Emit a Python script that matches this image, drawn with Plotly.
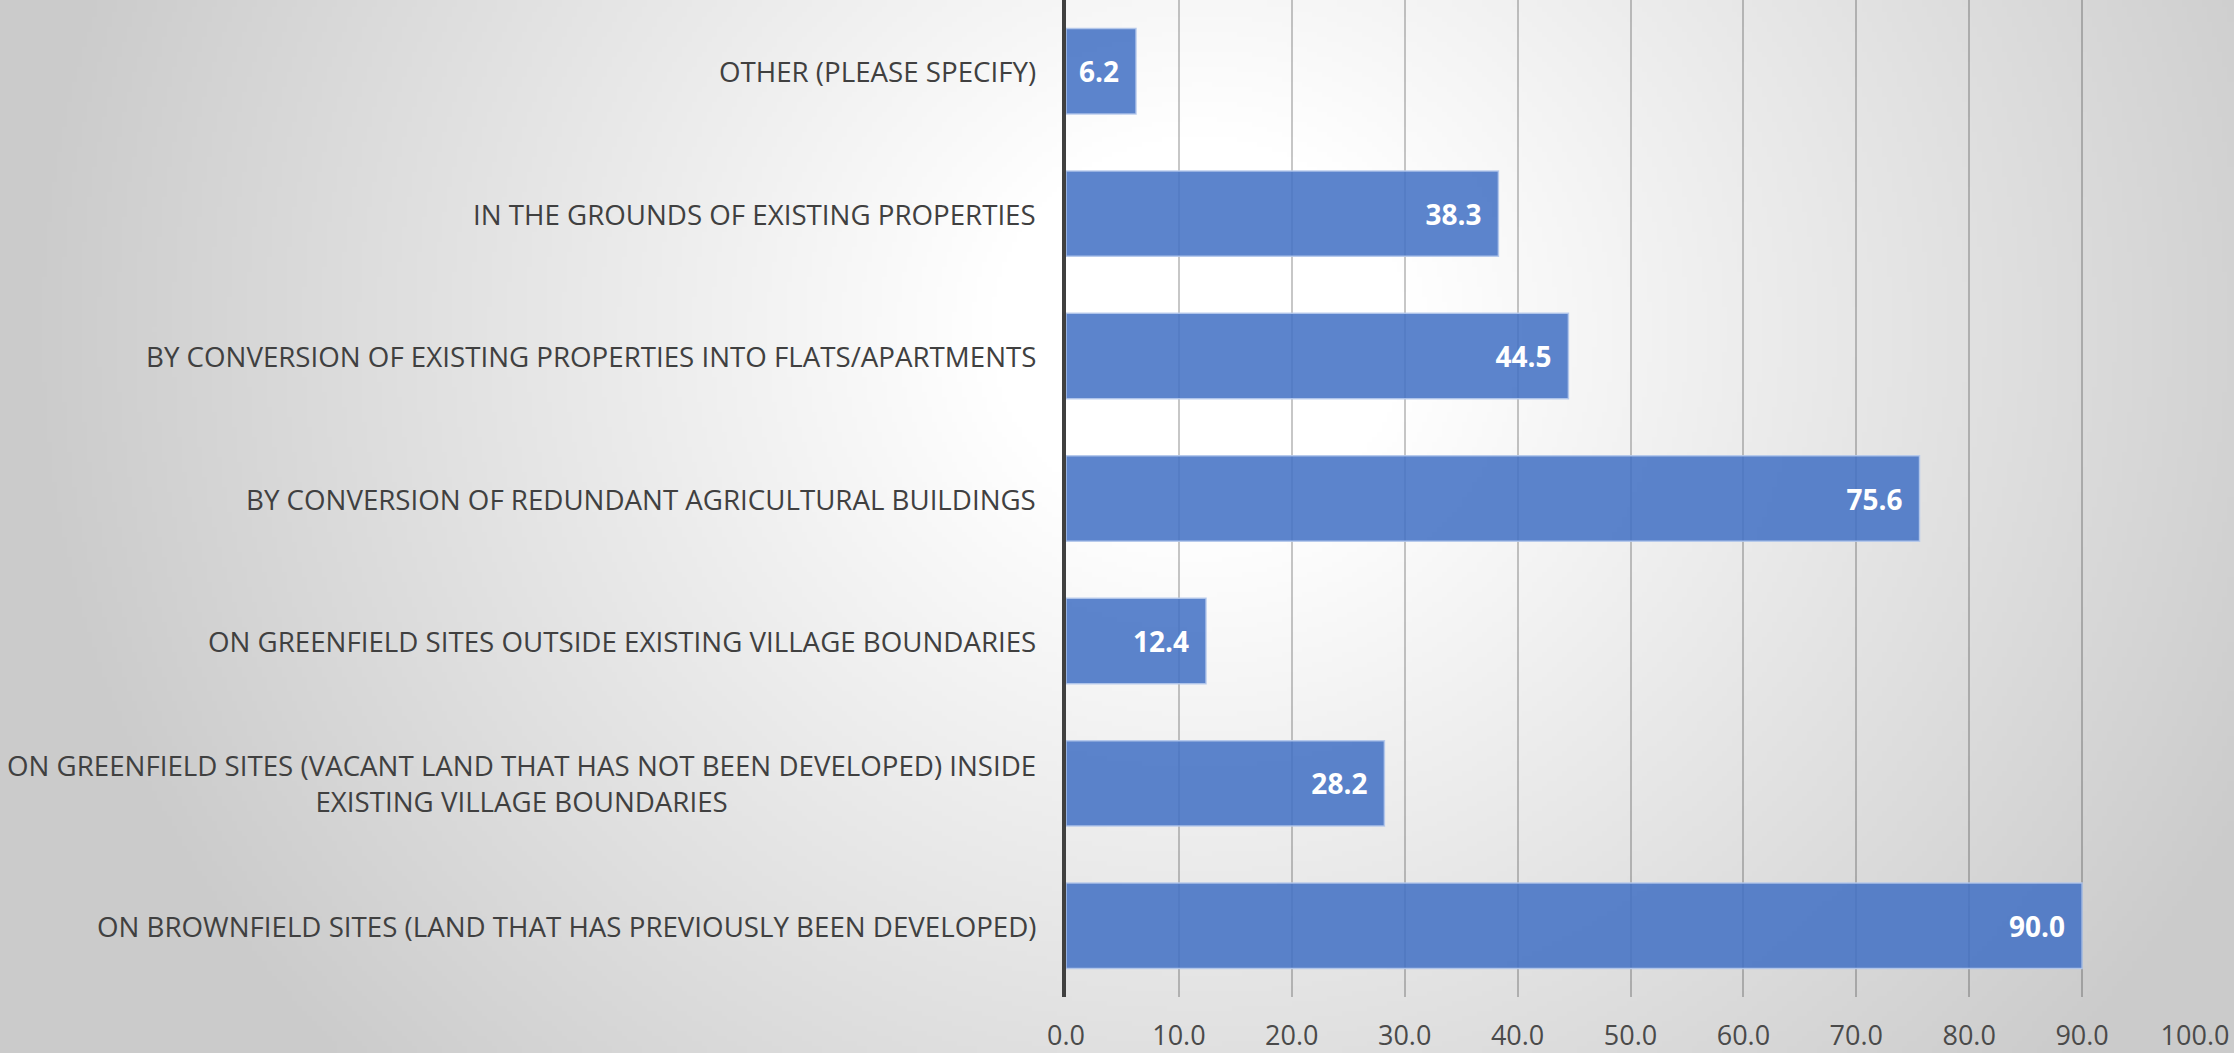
import base64, struct, zlib
import numpy as np
import plotly.graph_objects as go

# ---- data (top to bottom as shown) ----
categories = [
    "OTHER (PLEASE SPECIFY)",
    "IN THE GROUNDS OF EXISTING PROPERTIES",
    "BY CONVERSION OF EXISTING PROPERTIES INTO FLATS/APARTMENTS",
    "BY CONVERSION OF REDUNDANT AGRICULTURAL BUILDINGS",
    "ON GREENFIELD SITES OUTSIDE EXISTING VILLAGE BOUNDARIES",
    "ON GREENFIELD SITES (VACANT LAND THAT HAS NOT BEEN DEVELOPED) INSIDE<br>EXISTING VILLAGE BOUNDARIES",
    "ON BROWNFIELD SITES (LAND THAT HAS PREVIOUSLY BEEN DEVELOPED)",
]
values = [6.2, 38.3, 44.5, 75.6, 12.4, 28.2, 90.0]
x_ticks = [0, 10, 20, 30, 40, 50, 60, 70, 80, 90, 100]
x_tick_labels = ["0.0", "10.0", "20.0", "30.0", "40.0", "50.0", "60.0", "70.0", "80.0", "90.0", "100.0"]

W, H = 2234, 1053
ML, MR, MT, MB = 1066, 39, 0, 56
PW, PH = W - ML - MR, H - MT - MB

# ---- radial grey background as PNG ----
def make_bg(w=447, h=211):
    ys, xs = np.mgrid[0:h, 0:w]
    fx = xs / (w - 1) * W
    fy = ys / (h - 1) * H
    cx, cy, rx, ry = 1200, 330, 1180, 1100
    d = np.sqrt(((fx - cx) / rx) ** 2 + ((fy - cy) / ry) ** 2)
    t = np.clip((d - 0.18) / 0.82, 0, 1)
    v = 255 - 52 * t
    arr = np.clip(v, 0, 255).astype(np.uint8)
    raw = b"".join(b"\x00" + arr[i].tobytes() for i in range(h))
    def chunk(tag, data):
        c = struct.pack(">I", len(data)) + tag + data
        return c + struct.pack(">I", zlib.crc32(tag + data) & 0xFFFFFFFF)
    png = b"\x89PNG\r\n\x1a\n"
    png += chunk(b"IHDR", struct.pack(">IIBBBBB", w, h, 8, 0, 0, 0, 0))
    png += chunk(b"IDAT", zlib.compress(raw, 9))
    png += chunk(b"IEND", b"")
    return "data:image/png;base64," + base64.b64encode(png).decode()

bg = make_bg()

fig = go.Figure()
fig.add_trace(go.Bar(
    x=values,
    y=categories,
    orientation="h",
    marker=dict(color="rgba(68,114,196,0.87)", line=dict(color="rgba(180,200,235,0.9)", width=1.5)),
    text=[f"{v:.1f}\u2002" for v in values],
    textposition="inside",
    insidetextanchor="end",
    textfont=dict(family="Open Sans", size=28, color="white", weight="bold"),
    constraintext="none",
    hoverinfo="skip",
))

annotations = []
for c in categories:
    annotations.append(dict(
        x=0, xref="paper", y=c, yref="y",
        text=c, showarrow=False, xanchor="right", yanchor="middle",
        align="center", xshift=-28,
        font=dict(family="Open Sans", size=27.7, color="#404040"),
    ))

fig.update_layout(
    width=W, height=H,
    margin=dict(l=ML, r=MR, t=MT, b=MB, pad=0),
    paper_bgcolor="#d0d0d0",
    plot_bgcolor="rgba(0,0,0,0)",
    bargap=0.4,
    showlegend=False,
    annotations=annotations,
    images=[dict(
        source=bg, xref="paper", yref="paper",
        x=-ML / PW, y=1 + MT / PH, sizex=W / PW, sizey=H / PH,
        xanchor="left", yanchor="top", sizing="stretch", layer="below",
    )],
    xaxis=dict(
        range=[0, 100], tickvals=x_ticks, ticktext=x_tick_labels,
        showgrid=True, gridcolor="rgba(0,0,0,0.22)", gridwidth=1.5,
        zeroline=False, showline=False, ticks="",
        tickfont=dict(family="Open Sans", size=27, color="#4a4a4a"),
        ticklabelstandoff=20, fixedrange=True,
    ),
    yaxis=dict(
        autorange="reversed", showticklabels=False, ticks="",
        showgrid=False, zeroline=False,
        showline=True, linecolor="#404040", linewidth=4,
        fixedrange=True,
    ),
)

fig.write_html(
    "out.html",
    config={"displayModeBar": False},
    post_script="document.body.style.margin='0';document.body.style.overflow='hidden';",
)
